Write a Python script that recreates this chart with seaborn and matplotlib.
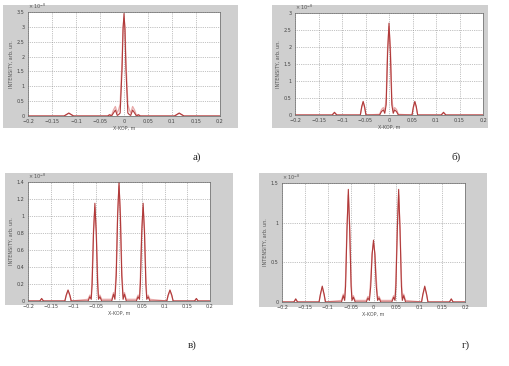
import matplotlib
matplotlib.use("Agg")
import matplotlib.pyplot as plt
import matplotlib.patches as mpatches
import seaborn as sns
import pandas as pd
import numpy as np

# --- Daten (Intensität in Einheiten von 1e-8) ---
x_ticks = [-0.2, -0.15, -0.1, -0.05, 0, 0.05, 0.1, 0.15, 0.2]
x_tick_labels = ["\u22120.2", "\u22120.15", "\u22120.1", "\u22120.05", "0", "0.05", "0.1", "0.15", "0.2"]

# a)
a_x = [-0.2, -0.125, -0.12, -0.115, -0.11, -0.105,
       -0.034, -0.03, -0.026, -0.022, -0.018, -0.014, -0.011, -0.008, -0.004, -0.002,
       0,
       0.002, 0.004, 0.008, 0.011, 0.014, 0.018, 0.022, 0.026, 0.03, 0.034,
       0.105, 0.11, 0.115, 0.12, 0.125, 0.2]
a_dark = [0, 0, 0.05, 0.1, 0.05, 0,
          0, 0.04, 0, 0.1, 0.2, 0.02, 0.05, 0.1, 1.6, 2.9,
          3.45,
          2.9, 1.6, 0.1, 0.05, 0.02, 0.2, 0.1, 0, 0.04, 0,
          0, 0.05, 0.1, 0.05, 0, 0]
a_pink = [0, 0, 0.04, 0.09, 0.04, 0,
          0, 0.05, 0.02, 0.2, 0.32, 0.1, 0.22, 0.4, 1.9, 3.0,
          3.3,
          3.0, 1.9, 0.4, 0.22, 0.1, 0.32, 0.2, 0.02, 0.05, 0,
          0, 0.04, 0.09, 0.04, 0, 0]

# б)
b_x = [-0.2, -0.121, -0.116, -0.111,
       -0.061, -0.058, -0.055, -0.052, -0.049,
       -0.02, -0.016, -0.012, -0.009, -0.006, -0.003,
       0,
       0.003, 0.006, 0.009, 0.012, 0.016, 0.02,
       0.049, 0.052, 0.055, 0.058, 0.061,
       0.111, 0.116, 0.121, 0.2]
b_dark = [0, 0, 0.08, 0,
          0, 0.25, 0.4, 0.25, 0,
          0, 0.1, 0.15, 0.05, 0.3, 1.8,
          2.7,
          1.8, 0.3, 0.05, 0.15, 0.1, 0,
          0, 0.25, 0.4, 0.25, 0,
          0, 0.08, 0, 0]
b_pink = [0, 0, 0.06, 0,
          0, 0.22, 0.37, 0.22, 0,
          0.02, 0.16, 0.22, 0.12, 0.5, 2.0,
          2.6,
          2.0, 0.5, 0.12, 0.22, 0.16, 0.02,
          0, 0.22, 0.37, 0.22, 0,
          0, 0.06, 0, 0]

# в)
c_x = [-0.2, -0.174, -0.17, -0.166,
       -0.119, -0.116, -0.112, -0.108, -0.105,
       -0.068, -0.064, -0.061, -0.059, -0.056, -0.053, -0.05, -0.047, -0.045, -0.042, -0.038,
       -0.016, -0.012, -0.009, -0.006, -0.003,
       0,
       0.003, 0.006, 0.009, 0.012, 0.016,
       0.038, 0.042, 0.045, 0.047, 0.05, 0.053, 0.056, 0.059, 0.061, 0.064, 0.068,
       0.105, 0.108, 0.112, 0.116, 0.119,
       0.166, 0.17, 0.174, 0.2]
c_dark = [0, 0, 0.03, 0,
          0, 0.07, 0.13, 0.07, 0,
          0, 0.05, 0.02, 0.2, 0.8, 1.15, 0.8, 0.2, 0.02, 0.05, 0,
          0, 0.08, 0.02, 0.3, 1.0,
          1.4,
          1.0, 0.3, 0.02, 0.08, 0,
          0, 0.05, 0.02, 0.2, 0.8, 1.15, 0.8, 0.2, 0.02, 0.05, 0,
          0, 0.07, 0.13, 0.07, 0,
          0, 0.03, 0, 0]
c_pink = [0, 0, 0.02, 0,
          0, 0.06, 0.12, 0.06, 0,
          0.02, 0.07, 0.05, 0.3, 0.85, 1.1, 0.85, 0.3, 0.05, 0.07, 0.02,
          0.02, 0.1, 0.06, 0.4, 1.05,
          1.35,
          1.05, 0.4, 0.06, 0.1, 0.02,
          0.02, 0.07, 0.05, 0.3, 0.85, 1.1, 0.85, 0.3, 0.05, 0.07, 0.02,
          0, 0.06, 0.12, 0.06, 0,
          0, 0.02, 0, 0]

# г)
d_x = [-0.2, -0.174, -0.17, -0.166,
       -0.119, -0.116, -0.112, -0.108, -0.105,
       -0.07, -0.066, -0.063, -0.061, -0.058, -0.055, -0.052, -0.049, -0.047, -0.044, -0.04,
       -0.016, -0.012, -0.009, -0.006, -0.003,
       0,
       0.003, 0.006, 0.009, 0.012, 0.016,
       0.04, 0.044, 0.047, 0.049, 0.052, 0.055, 0.058, 0.061, 0.063, 0.066, 0.07,
       0.105, 0.108, 0.112, 0.116, 0.119,
       0.166, 0.17, 0.174, 0.2]
d_dark = [0, 0, 0.04, 0,
          0, 0.1, 0.2, 0.1, 0,
          0, 0.08, 0.02, 0.2, 0.9, 1.42, 0.9, 0.2, 0.02, 0.06, 0,
          0, 0.05, 0.02, 0.2, 0.6,
          0.78,
          0.6, 0.2, 0.02, 0.05, 0,
          0, 0.06, 0.02, 0.2, 0.9, 1.42, 0.9, 0.2, 0.02, 0.08, 0,
          0, 0.1, 0.2, 0.1, 0,
          0, 0.04, 0, 0]
d_pink = [0, 0, 0.03, 0,
          0, 0.09, 0.18, 0.09, 0,
          0.02, 0.1, 0.05, 0.3, 0.95, 1.35, 0.95, 0.3, 0.05, 0.08, 0.02,
          0.02, 0.07, 0.05, 0.3, 0.62,
          0.74,
          0.62, 0.3, 0.05, 0.07, 0.02,
          0.02, 0.08, 0.05, 0.3, 0.95, 1.35, 0.95, 0.3, 0.05, 0.1, 0.02,
          0, 0.09, 0.18, 0.09, 0,
          0, 0.03, 0, 0]

panels = [
    # (x, dunkel, hell, ymax, yticks, label, grey rect px, axes rect px, label pos px)
    (a_x, a_dark, a_pink, 3.5, np.arange(0, 3.51, 0.5), "а)", (3, 5, 238, 128), (28, 12, 220, 116), (193, 157)),
    (b_x, b_dark, b_pink, 3.0, np.arange(0, 3.01, 0.5), "б)", (272, 5, 488, 128), (295, 13, 483, 115), (452, 157)),
    (c_x, c_dark, c_pink, 1.4, np.arange(0, 1.41, 0.2), "в)", (5, 173, 233, 305), (28, 182, 210, 301), (188, 345)),
    (d_x, d_dark, d_pink, 1.5, np.arange(0, 1.51, 0.5), "г)", (259, 173, 487, 307), (282, 183, 465, 302), (462, 345)),
]

W, H = 510, 366
sns.set_style("white")
plt.rcParams['font.family'] = ['DejaVu Sans']
fig = plt.figure(figsize=(W / 100, H / 100), dpi=100)

def fr(x0, y0, x1, y1):
    return [x0 / W, 1 - y1 / H, (x1 - x0) / W, (y1 - y0) / H]

for xs, dark, pink, ymax, yt, label, grey, axr, lpos in panels:
    g = fr(*grey)
    fig.patches.append(mpatches.Rectangle((g[0], g[1]), g[2], g[3], transform=fig.transFigure,
                                          facecolor="#cfcfcf", edgecolor="none", zorder=-5))
    ax = fig.add_axes(fr(*axr))
    ax.set_zorder(2)
    ax.set_facecolor("white")
    df = pd.DataFrame({"x": xs, "dark": dark, "pink": pink})
    sns.lineplot(data=df, x="x", y="pink", ax=ax, color="#e8a8a8", linewidth=0.9)
    sns.lineplot(data=df, x="x", y="dark", ax=ax, color="#b03a3a", linewidth=0.8)
    ax.set_xlim(-0.2, 0.2)
    ax.set_ylim(0, ymax)
    ax.set_xticks(x_ticks)
    ax.set_xticklabels(x_tick_labels)
    ax.set_yticks(yt)
    ax.set_yticklabels(["0" if v == 0 else f"{v:g}" for v in yt])
    ax.tick_params(labelsize=3.5, length=1.5, width=0.4, pad=1, colors="#444444")
    ax.grid(True, linestyle=":", linewidth=0.5, color="#888888")
    for s in ax.spines.values():
        s.set_linewidth(0.5)
        s.set_color("#666666")
    ax.set_xlabel("X-KOP, m", fontsize=3.5, labelpad=1, color="#555555")
    ax.set_ylabel("INTENSITY, arb. un.", fontsize=3.5, labelpad=2, color="#555555")
    ax.text(0.0, 1.01, "× 10$^{-8}$", transform=ax.transAxes, fontsize=3.5, color="#555555",
            va="bottom", ha="left")
    fig.text(lpos[0] / W, 1 - lpos[1] / H, label, fontsize=8, family="Liberation Serif",
             ha="left", va="center")

fig.savefig("out.png", dpi=100)
